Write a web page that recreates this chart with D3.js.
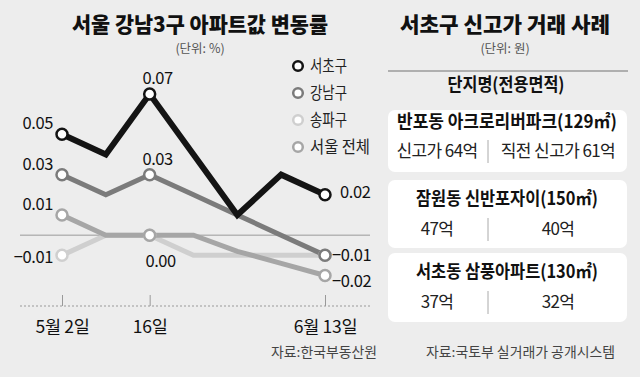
<!DOCTYPE html>
<html><head><meta charset="utf-8">
<script src="https://cdn.jsdelivr.net/npm/d3@7"></script>
<style>
html,body{margin:0;padding:0;background:#ededed;}
svg{display:block;font-family:"Noto Sans CJK KR","Noto Sans",sans-serif;}
</style></head>
<body>
<svg id="c" width="640" height="377"></svg>
<script>
// ---- data ----
const dates = ["5/2","5/9","5/16","5/23","5/30","6/6","6/13"];
const tickDates = ["5/2","5/16","6/13"];
const tickLabels = ["5월 2일","16일","6월 13일"];
const markerDates = ["5/2","5/16","6/13"];
const seriesNames = ["서초구","강남구","송파구","서울 전체"];
const seocho  = [0.05, 0.04, 0.07, 0.04, 0.01, 0.03, 0.02];
const gangnam = [0.03, 0.02, 0.03, 0.02, 0.01, 0.00, -0.01];
const songpa  = [-0.01, 0.00, 0.00, -0.01, -0.01, -0.01, -0.01];
const seoul   = [0.01, 0.00, 0.00, 0.00, -0.008, -0.014, -0.02];
const chartTitle = "서울 강남3구 아파트값 변동률";
const chartUnit = "(단위: %)";
const chartSource = "자료:한국부동산원";

const dealTitle = "서초구 신고가 거래 사례";
const dealUnit = "(단위: 원)";
const dealHeader = "단지명(전용면적)";
const complexes = ["반포동 아크로리버파크(129㎡)","잠원동 신반포자이(150㎡)","서초동 삼풍아파트(130㎡)"];
const newHigh = ["신고가 64억","47억","37억"];
const prevHigh = ["직전 신고가 61억","40억","32억"];
const dealSource = "자료:국토부 실거래가 공개시스템";

// ---- styles ----
const colors = {"서초구":"#141414","강남구":"#7b7b7b","송파구":"#cfcfcf","서울 전체":"#a6a6a6"};
const widths = {"서초구":6,"강남구":5,"송파구":5,"서울 전체":5};
const seriesVals = {"서초구":seocho,"강남구":gangnam,"송파구":songpa,"서울 전체":seoul};

const svg = d3.select("#c");
function fit(t, w){ if(w) t.attr("textLength", w).attr("lengthAdjust","spacingAndGlyphs"); return t; }

// ---- left chart ----
const x = d3.scalePoint().domain(dates).range([62, 325]);
const y = d3.scaleLinear().domain([-0.02, 0.07]).range([275.5, 94]);
const fmt = d3.format(".2f");

fit(svg.append("text").attr("x",200).attr("y",32).attr("text-anchor","middle")
  .attr("font-size",21).attr("font-weight",900).attr("fill","#111").text(chartTitle),256);
svg.append("text").attr("x",200).attr("y",53).attr("text-anchor","middle")
  .attr("font-size",12.5).attr("fill","#555").text(chartUnit);

// zero line
svg.append("line").attr("x1",20).attr("x2",370).attr("y1",y(0)).attr("y2",y(0))
  .attr("stroke","#9a9a9a").attr("stroke-width",1);

// x axis (dotted baseline with ticks)
const axisY = 306;
const xAxis = d3.axisBottom(x).tickValues(tickDates).tickSize(0).tickPadding(0)
  .tickFormat(d=>tickLabels[tickDates.indexOf(d)]);
const ax = svg.append("g").attr("transform",`translate(0,${axisY})`).call(xAxis);
ax.select(".domain").remove();
ax.selectAll(".tick line").attr("y1",-11).attr("y2",0).attr("stroke","#999");
ax.selectAll(".tick text").attr("y",27).attr("dy",0).attr("font-size",17.5).attr("fill","#111")
  .attr("font-weight",400).attr("font-family",'"Noto Sans CJK KR",sans-serif').attr("letter-spacing",-0.3);
svg.append("line").attr("x1",20).attr("x2",372).attr("y1",axisY).attr("y2",axisY)
  .attr("stroke","#999").attr("stroke-width",1).attr("stroke-dasharray","2,2");

// lines
const line = d3.line().x((d,i)=>x(dates[i])).y(d=>y(d));
const drawOrder = ["송파구","서울 전체","강남구","서초구"];
drawOrder.forEach(n=>{
  svg.append("path").datum(seriesVals[n]).attr("d",line).attr("fill","none")
    .attr("stroke",colors[n]).attr("stroke-width",widths[n]).attr("stroke-linejoin","miter");
});
drawOrder.forEach(n=>{
  svg.append("g").selectAll("circle").data(markerDates).join("circle")
    .attr("cx",d=>x(d)).attr("cy",d=>y(seriesVals[n][dates.indexOf(d)]))
    .attr("r",5.5).attr("fill","#fff").attr("stroke",colors[n]).attr("stroke-width",2.5);
});

// value labels
const lab = svg.append("g").attr("font-size",16.5).attr("font-weight",400).attr("fill","#111").attr("letter-spacing",-0.4);
seriesNames.forEach(n=>{
  const v = seriesVals[n][0];
  lab.append("text").attr("x",x(dates[0])-9).attr("y",y(v)+(v<0?8:-5))
    .attr("text-anchor","end").text(fmt(v));
});
["서초구","강남구"].forEach(n=>{
  const v = seriesVals[n][2];
  lab.append("text").attr("x",x(dates[2])+8).attr("y",y(v)-10)
    .attr("text-anchor","middle").text(fmt(v));
});
{
  const v = seoul[2];
  lab.append("text").attr("x",x(dates[2])+11).attr("y",y(v)+32)
    .attr("text-anchor","middle").text(fmt(v));
}
["서초구","강남구","서울 전체"].forEach(n=>{
  const v = seriesVals[n][6];
  lab.append("text").attr("x",x(dates[6])+(v<0?7:15)).attr("y",y(v)+(v<0?(v<-0.015?11:6):3))
    .attr("text-anchor","start").text(fmt(v));
});

// legend
const legW = {"서초구":37,"강남구":37,"송파구":37,"서울 전체":60};
const leg = svg.append("g");
seriesNames.forEach((n,i)=>{
  const ly = 66 + i*27;
  leg.append("circle").attr("cx",298).attr("cy",ly).attr("r",4.8).attr("fill","#fff")
    .attr("stroke",colors[n]).attr("stroke-width",2.5);
  fit(leg.append("text").attr("x",310).attr("y",ly+6).attr("font-size",16.5).attr("fill","#222").text(n),legW[n]);
});

fit(svg.append("text").attr("x",377).attr("y",357).attr("text-anchor","end")
  .attr("font-size",13.5).attr("fill","#444").text(chartSource),106);

// ---- right panel ----
fit(svg.append("text").attr("x",505).attr("y",32).attr("text-anchor","middle")
  .attr("font-size",21).attr("font-weight",900).attr("fill","#111").text(dealTitle),210);
svg.append("text").attr("x",505).attr("y",53).attr("text-anchor","middle")
  .attr("font-size",12.5).attr("fill","#555").text(dealUnit);
svg.append("line").attr("x1",388).attr("x2",628).attr("y1",71).attr("y2",71)
  .attr("stroke","#9a9a9a").attr("stroke-width",1.5);
fit(svg.append("text").attr("x",506).attr("y",91).attr("text-anchor","middle")
  .attr("font-size",18).attr("font-weight",700).attr("fill","#111").text(dealHeader),117);

const boxTop = [110, 180, 253];
const boxH = [62, 68, 69];
const titleW = [220, 182, 182];
complexes.forEach((c,i)=>{
  const g = svg.append("g").attr("transform",`translate(0,${boxTop[i]})`);
  g.append("rect").attr("x",388).attr("y",0).attr("width",239).attr("height",boxH[i])
    .attr("rx",7).attr("fill","#fff");
  const tY = i===0 ? 18 : 25;
  fit(g.append("text").attr("x",507).attr("y",tY).attr("text-anchor","middle")
    .attr("font-size",18).attr("font-weight",700).attr("fill","#111").text(c),titleW[i]);
  const rY = i===0 ? 47 : 55;
  g.append("text").attr("x",437).attr("y",rY).attr("text-anchor","middle")
    .attr("font-size",17).attr("fill","#222").attr("letter-spacing",-0.6).text(newHigh[i]);
  g.append("text").attr("x",558).attr("y",rY).attr("text-anchor","middle")
    .attr("font-size",17).attr("fill","#222").attr("letter-spacing",-0.6).text(prevHigh[i]);
  g.append("line").attr("x1",488).attr("x2",488).attr("y1",rY-17).attr("y2",rY+6)
    .attr("stroke","#aaa").attr("stroke-width",1);
});

fit(svg.append("text").attr("x",615).attr("y",357).attr("text-anchor","end")
  .attr("font-size",13.5).attr("fill","#444").text(dealSource),189);
</script>
</body></html>
